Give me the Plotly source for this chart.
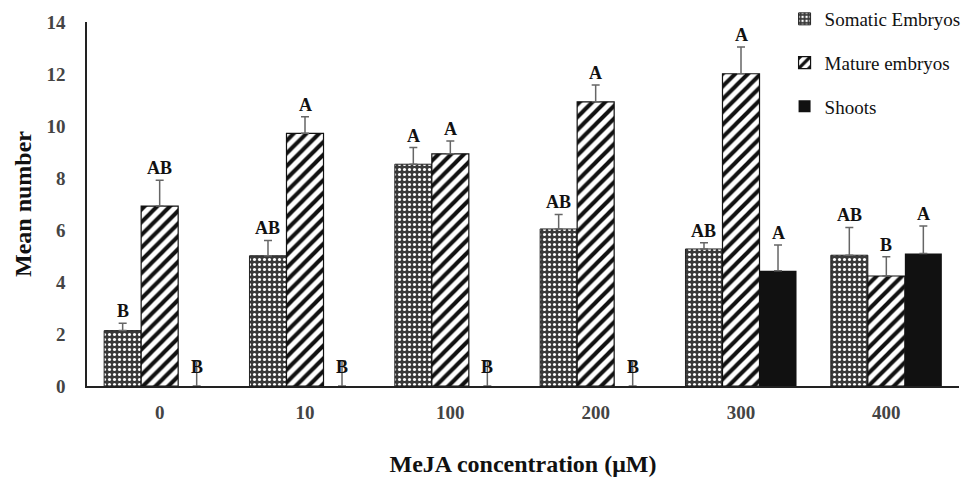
import plotly.graph_objects as go

categories = ["0", "10", "100", "200", "300", "400"]
series_names = ["Somatic Embryos", "Mature embryos", "Shoots"]
somatic = [2.13, 5.01, 8.53, 6.04, 5.27, 5.03]
somatic_err = [0.28, 0.59, 0.64, 0.56, 0.24, 1.07]
mature = [6.92, 9.72, 8.93, 10.93, 12.01, 4.23]
mature_err = [0.99, 0.64, 0.49, 0.65, 1.03, 0.74]
shoots = [0, 0, 0, 0, 4.43, 5.10]
shoots_err = [0.95, 0.95, 0.95, 0.95, 0.99, 1.05]
somatic_lbl = ["B", "AB", "A", "AB", "AB", "AB"]
mature_lbl = ["AB", "A", "A", "A", "A", "B"]
shoots_lbl = ["B", "B", "B", "B", "A", "A"]

serif = "Liberation Serif"
err_style = dict(type="data", symmetric=False, color="#666666", thickness=1.5, width=4)

fig = go.Figure()
fig.add_bar(
    x=categories, y=somatic, name=series_names[0], legendgroup="a",
    marker=dict(color="#3a3a3a", line=dict(color="#222222", width=1),
                pattern=dict(shape=".", fgcolor="#ffffff", bgcolor="#3a3a3a", size=5, solidity=0.3, fillmode="replace")),
    error_y=dict(array=somatic_err, arrayminus=[0] * 6, **err_style),
)
fig.add_bar(
    x=categories, y=mature, name=series_names[1], legendgroup="b",
    marker=dict(color="white", line=dict(color="#111111", width=1.2),
                pattern=dict(shape="/", fgcolor="#111111", bgcolor="white", size=9, solidity=0.45, fillmode="replace")),
    error_y=dict(array=mature_err, arrayminus=[0] * 6, **err_style),
)
fig.add_bar(
    x=categories, y=shoots, name=series_names[2], legendgroup="c",
    marker=dict(color="#111111", line=dict(color="#111111", width=0)),
    error_y=dict(array=shoots_err, arrayminus=[0] * 6, **err_style),
)

ngroup = 3
bargap = 0.236
bw = (1 - bargap) / ngroup
for si, (vals, errs, lbls) in enumerate([(somatic, somatic_err, somatic_lbl),
                                           (mature, mature_err, mature_lbl),
                                           (shoots, shoots_err, shoots_lbl)]):
    for ci, cat in enumerate(categories):
        off = (si - 1) * bw
        top = vals[ci] + errs[ci]
        zero = vals[ci] == 0
        fig.add_annotation(
            x=ci + off, y=top, xref="x", yref="y", text="<b>%s</b>" % lbls[ci],
            showarrow=False, yanchor="top" if zero else "bottom", yshift=6 if zero else 0,
            font=dict(family=serif, size=18, color="#111111"),
        )

fig.update_layout(
    width=971, height=479,
    margin=dict(l=87, r=12, t=22, b=93, autoexpand=False),
    paper_bgcolor="white", plot_bgcolor="white",
    barmode="group", bargap=bargap, bargroupgap=0,
    font=dict(family=serif, color="#111111"),
    legend=dict(xref="container", yref="container", x=0.808, y=1.0, xanchor="left", yanchor="top",
                font=dict(family=serif, size=19, color="#111111"),
                traceorder="grouped", tracegroupgap=16, bgcolor="rgba(0,0,0,0)", itemwidth=30),
    xaxis=dict(type="category", showline=True, linecolor="#222222", linewidth=1.5, ticks="",
               tickfont=dict(family=serif, size=19, color="#444444", weight="bold"), ticklabelstandoff=8,
               title=dict(text="<b>MeJA concentration (μM)</b>", font=dict(family=serif, size=24, color="#111111"), standoff=34),
               showgrid=False, automargin=False),
    yaxis=dict(range=[0, 14], dtick=2, showline=True, linecolor="#222222", linewidth=1.5, ticks="",
               tickfont=dict(family=serif, size=19, color="#444444", weight="bold"), ticklabelstandoff=16,
               title=dict(text="<b>Mean number</b>", font=dict(family=serif, size=24, color="#111111"), standoff=8),
               showgrid=False, zeroline=False, automargin=False),
)
fig.write_html("out.html", config={"displayModeBar": False},
               post_script="document.body.style.margin='0';document.body.style.overflow='hidden';")
